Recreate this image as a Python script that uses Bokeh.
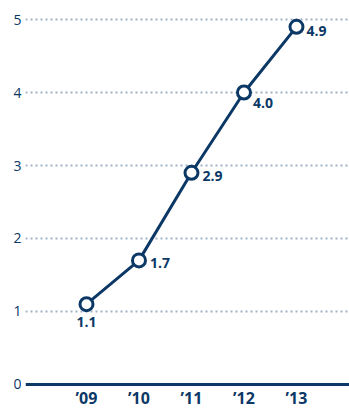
from bokeh.plotting import figure
from bokeh.models import ColumnDataSource, Span, FixedTicker, Range1d
from bokeh.core.properties import value
from bokeh.embed import file_html
from bokeh.resources import INLINE

years = ["\u201909", "\u201910", "\u201911", "\u201912", "\u201913"]
values = [1.1, 1.7, 2.9, 4.0, 4.9]
labels = ["1.1", "1.7", "2.9", "4.0", "4.9"]
y_ticks = [0, 1, 2, 3, 4, 5]

NAVY = "#0c3866"
GRID = "#9fb2c6"
FONT = "Open Sans"

xs = list(range(len(years)))
src = ColumnDataSource(dict(x=xs, y=values, label=labels,
                            xo=[0, 11, 11, 9, 10], yo=[18, 3, 3, 10, 4],
                            align=["center", "left", "left", "left", "left"]))
xsrc = ColumnDataSource(dict(x=xs, y=[0] * len(xs), year=years))

p = figure(width=349, height=408, output_backend="svg", toolbar_location=None,
           x_range=Range1d(-1.162, 5.01), y_range=Range1d(-0.329, 5.192),
           min_border_left=25, min_border_right=0, min_border_top=5, min_border_bottom=0)
p.outline_line_color = None
p.background_fill_color = "white"
p.border_fill_color = "white"

p.xaxis.visible = False

p.yaxis.ticker = FixedTicker(ticks=y_ticks)
p.yaxis.axis_line_color = None
p.yaxis.major_tick_line_color = None
p.yaxis.minor_tick_line_color = None
p.yaxis.major_tick_out = 0
p.yaxis.minor_tick_out = 0
p.yaxis.major_label_text_color = NAVY
p.yaxis.major_label_text_font = FONT
p.yaxis.major_label_text_font_size = "14px"
p.yaxis.major_label_standoff = 4

p.xgrid.grid_line_color = None
p.ygrid.ticker = FixedTicker(ticks=y_ticks[1:])
p.ygrid.grid_line_color = GRID
p.ygrid.grid_line_width = 2
p.ygrid.grid_line_dash = "2 3"

p.add_layout(Span(location=0, dimension="width", line_color=NAVY, line_width=3))

# category labels along the zero line
p.text("x", "y", text="year", source=xsrc, y_offset=14,
       text_align="center", text_baseline="middle", text_color=NAVY,
       text_font=value(FONT), text_font_style="bold", text_font_size="16px")

p.line("x", "y", source=src, line_color=NAVY, line_width=3)
p.scatter("x", "y", source=src, size=13, fill_color="white", line_color=NAVY, line_width=3)

p.text("x", "y", text="label", source=src, x_offset="xo", y_offset="yo",
       text_align="align", text_baseline="middle", text_color=NAVY,
       text_font=value(FONT), text_font_style="bold", text_font_size="14px")

open("out.html", "w").write(file_html(p, INLINE))
